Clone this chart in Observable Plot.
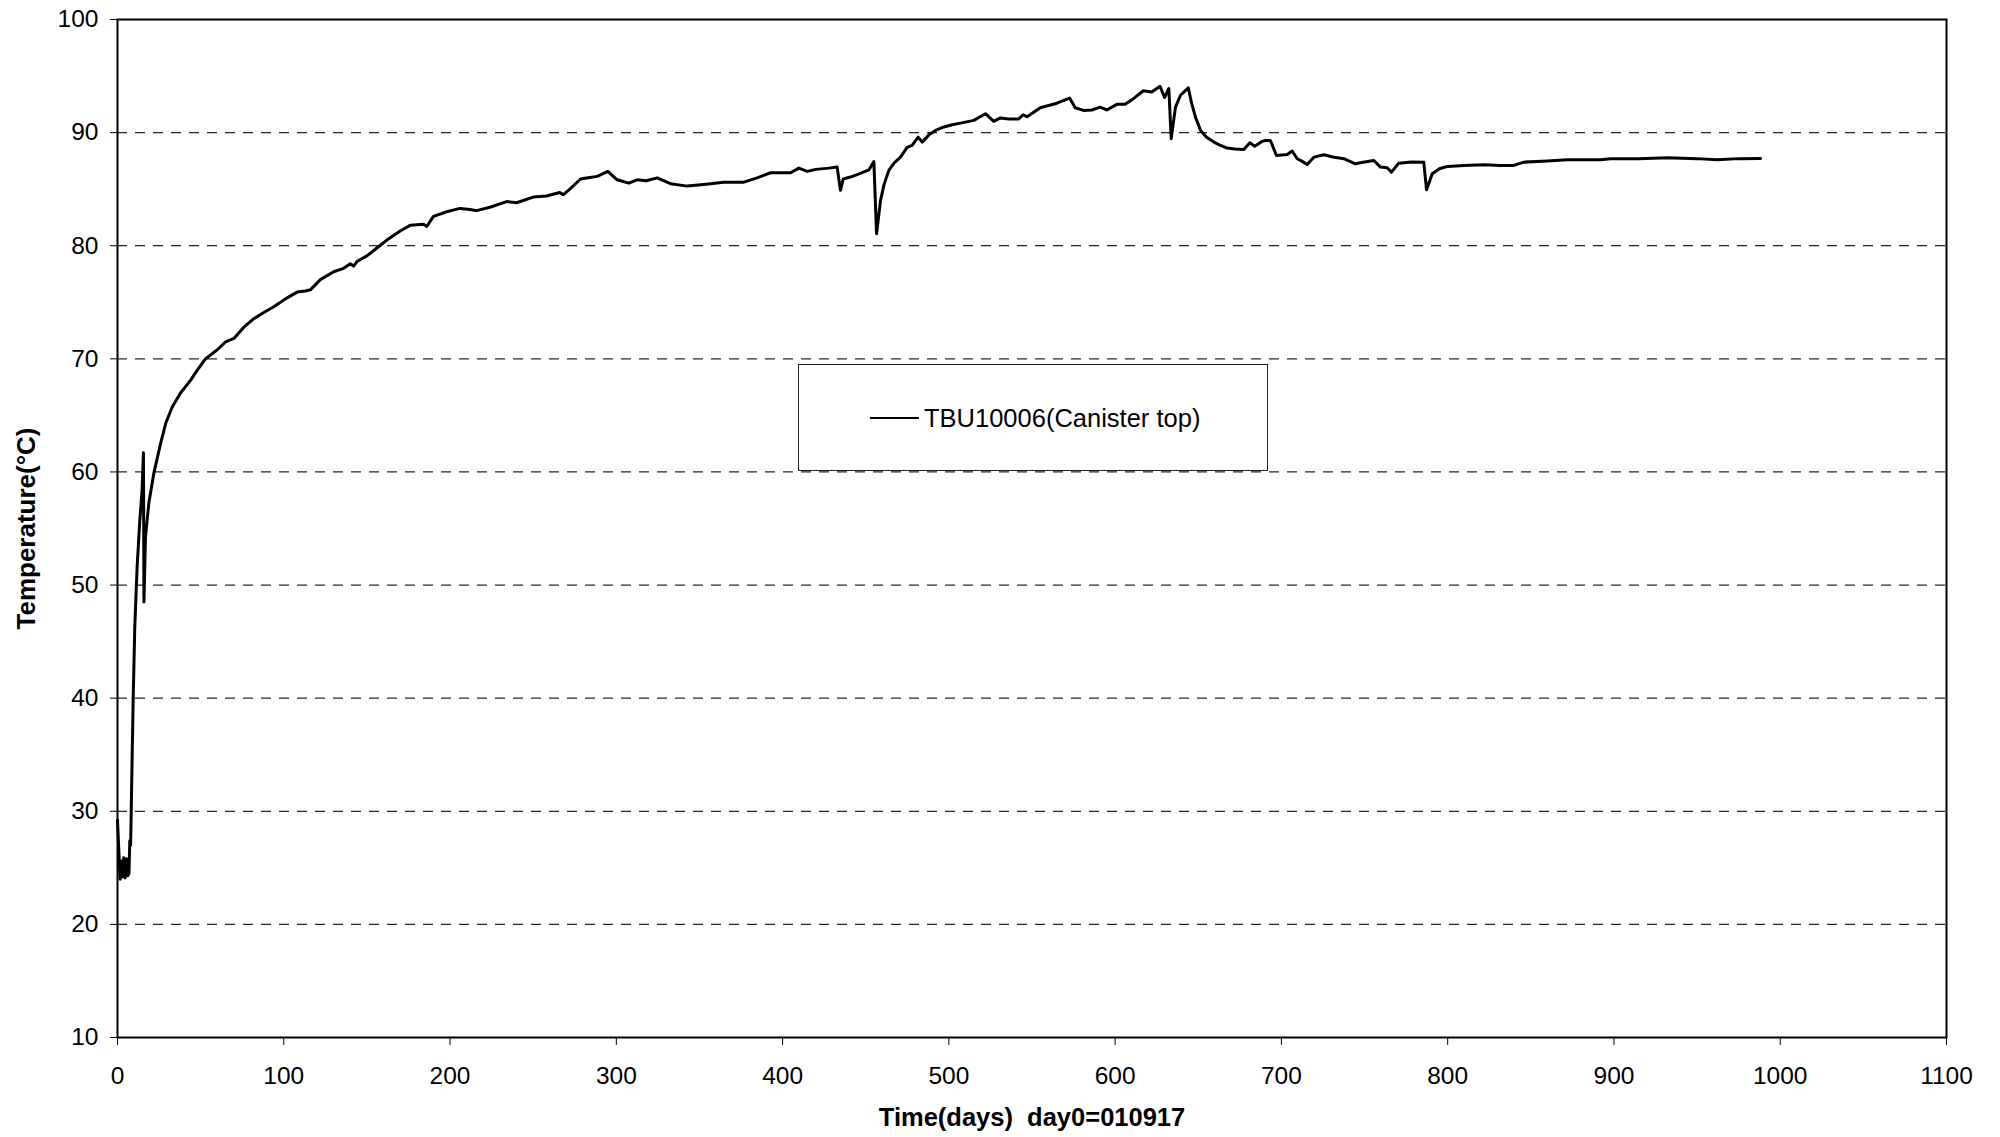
<!DOCTYPE html>
<html>
<head>
<meta charset="utf-8">
<script src="https://cdn.jsdelivr.net/npm/d3@7"></script>
<script src="https://cdn.jsdelivr.net/npm/@observablehq/plot@0.6"></script>
<style>
  html, body { margin: 0; padding: 0; background: #fff; }
  #wrap { position: relative; width: 2000px; height: 1137px; font-family: "Liberation Sans", Arial, sans-serif; }
  #legend { position: absolute; left: 798px; top: 364px; width: 470px; height: 107px; border: 1.5px solid #222; background: #fff; box-sizing: border-box; }
  #legend .sw { position: absolute; left: 71px; top: 52px; width: 49px; height: 0; border-top: 2.5px solid #000; }
  #legend .lb { position: absolute; left: 125px; top: 38px; font-size: 25.5px; line-height: 30px; color: #000; white-space: nowrap; }
</style>
</head>
<body>
<div id="wrap"></div>
<script>
const seriesName = "TBU10006(Canister top)";
const xTitle = "Time(days)\u00a0\u00a0day0=010917";
const yTitle = "Temperature(°C)";
const xTicks = [0, 100, 200, 300, 400, 500, 600, 700, 800, 900, 1000, 1100];
const yTicks = [10, 20, 30, 40, 50, 60, 70, 80, 90, 100];
const gridValues = [20, 30, 40, 50, 60, 70, 80, 90];

const days = [0, 0.8, 1.6, 2.4, 3.0, 3.8, 4.6, 5.4, 6.2, 6.9, 7.4, 7.9, 8.4, 9.4, 10.4, 11.8, 13.4, 14.8, 15.6, 15.9, 16.8, 18.8, 21.8, 25.9, 29, 32.9, 38, 43.9, 48, 52.9, 60, 65, 70, 76, 82, 88, 94, 101, 108, 113, 116, 122, 130, 136, 140, 142, 144, 150, 156, 162, 170, 176, 184, 186, 190, 198, 206, 212, 216, 224, 234, 240, 250, 258, 266, 268, 272, 278.5, 283, 288.5, 294.9, 300.5, 307.5, 312.5, 318, 324.6, 332.6, 342.6, 352.6, 364.6, 376.7, 384.7, 392.7, 404.8, 409.8, 414.8, 420, 427.8, 432.8, 434.8, 436.5, 440.8, 446, 451.9, 454.9, 456.5, 458.9, 461, 463.9, 467, 470.9, 474.9, 477.9, 481.5, 484, 488, 492, 497, 502, 507, 515, 522, 527, 531, 536, 542, 544.7, 547, 551, 555, 560, 565, 572.6, 576, 581, 586, 591, 595, 601, 606, 611, 617, 622, 627, 629.7, 632.3, 633.7, 636.3, 639.3, 644, 646, 648.3, 651.4, 655, 659.4, 663, 667.4, 672, 677.4, 681, 684, 688, 690.4, 693.4, 697, 703.5, 706.5, 709.5, 712, 715.5, 719.5, 725.5, 731, 737.5, 744.5, 750, 755.6, 759.6, 763.6, 766.2, 770.6, 778, 785.6, 787.3, 790.7, 795, 799.7, 810, 821.8, 831.8, 839.8, 845.8, 860, 871.9, 891.9, 898, 915, 932, 950, 962, 975, 988.2];
const temps = [29.2, 26.5, 24.0, 25.6, 24.2, 25.9, 24.1, 25.8, 24.3, 24.5, 27.4, 27.0, 31.3, 39.8, 46.3, 51.6, 55.7, 58.4, 61.7, 48.5, 54.2, 57.2, 59.85, 62.5, 64.3, 65.74, 67.0, 68.1, 69.0, 70.0, 70.8, 71.5, 71.8, 72.8, 73.55, 74.1, 74.6, 75.3, 75.9, 76.0, 76.1, 77.0, 77.7, 78.0, 78.4, 78.2, 78.6, 79.1, 79.8, 80.5, 81.3, 81.8, 81.9, 81.7, 82.6, 83.0, 83.3, 83.2, 83.1, 83.4, 83.9, 83.8, 84.3, 84.4, 84.7, 84.5, 85.0, 85.9, 86.0, 86.13, 86.57, 85.83, 85.53, 85.83, 85.75, 86.0, 85.48, 85.27, 85.42, 85.62, 85.62, 86.0, 86.45, 86.45, 86.86, 86.57, 86.75, 86.86, 86.95, 84.9, 85.9, 86.07, 86.35, 86.7, 87.45, 81.06, 84.0, 85.4, 86.66, 87.3, 87.83, 88.7, 88.87, 89.6, 89.16, 89.8, 90.19, 90.5, 90.7, 90.84, 91.08, 91.67, 91.0, 91.3, 91.2, 91.2, 91.58, 91.4, 91.8, 92.2, 92.4, 92.6, 93.05, 92.2, 91.96, 92.0, 92.25, 92.0, 92.5, 92.5, 93.0, 93.7, 93.6, 94.1, 93.1, 93.9, 89.46, 92.25, 93.3, 93.96, 92.6, 91.37, 90.19, 89.6, 89.16, 88.9, 88.63, 88.55, 88.5, 89.1, 88.8, 89.2, 89.3, 89.3, 87.98, 88.07, 88.37, 87.69, 87.5, 87.19, 87.83, 88.04, 87.85, 87.69, 87.24, 87.4, 87.54, 86.95, 86.9, 86.51, 87.3, 87.4, 87.39, 84.95, 86.36, 86.8, 87.0, 87.1, 87.16, 87.1, 87.1, 87.39, 87.5, 87.6, 87.6, 87.69, 87.7, 87.78, 87.7, 87.6, 87.7, 87.72];

const data = days.map((d, i) => ({day: d, temp: temps[i]}));

const chart = Plot.plot({
  width: 2000,
  height: 1137,
  marginLeft: 117,
  marginRight: 54,
  marginTop: 19,
  marginBottom: 100,
  style: {fontFamily: "'Liberation Sans', Arial, sans-serif", fontSize: "24px", color: "#000", background: "#fff"},
  x: {domain: [0, 1100], label: null},
  y: {domain: [10, 100], label: null},
  marks: [
    Plot.gridY(gridValues, {stroke: "#000", strokeOpacity: 0.85, strokeWidth: 1.3, strokeDasharray: "10,8"}),
    Plot.line(data, {x: "day", y: "temp", stroke: "#000", strokeWidth: 3, curve: "linear", strokeLinejoin: "round"}),
    Plot.frame({stroke: "#000", strokeWidth: 2}),
    Plot.axisX(xTicks, {tickSize: 8, tickPadding: 21, fontSize: 24.5, label: null, stroke: "#000", tickFormat: d => String(d)}),
    Plot.axisY(yTicks, {tickSize: 7, tickPadding: 12, fontSize: 24.5, label: null, stroke: "#000", tickFormat: d => String(d)}),
    Plot.text([yTitle], {frameAnchor: "left", dx: -91, rotate: -90, textAnchor: "middle", lineAnchor: "middle", fontSize: 26, fontWeight: "bold", fill: "#000"}),
    Plot.text([xTitle], {frameAnchor: "bottom", dy: 80, textAnchor: "middle", lineAnchor: "middle", fontSize: 25.5, fontWeight: "bold", fill: "#000"})
  ]
});

const wrap = document.getElementById("wrap");
wrap.appendChild(chart);
const legend = document.createElement("div");
legend.id = "legend";
legend.innerHTML = '<div class="sw"></div><div class="lb"></div>';
legend.querySelector(".lb").textContent = seriesName;
wrap.appendChild(legend);
</script>
</body>
</html>
